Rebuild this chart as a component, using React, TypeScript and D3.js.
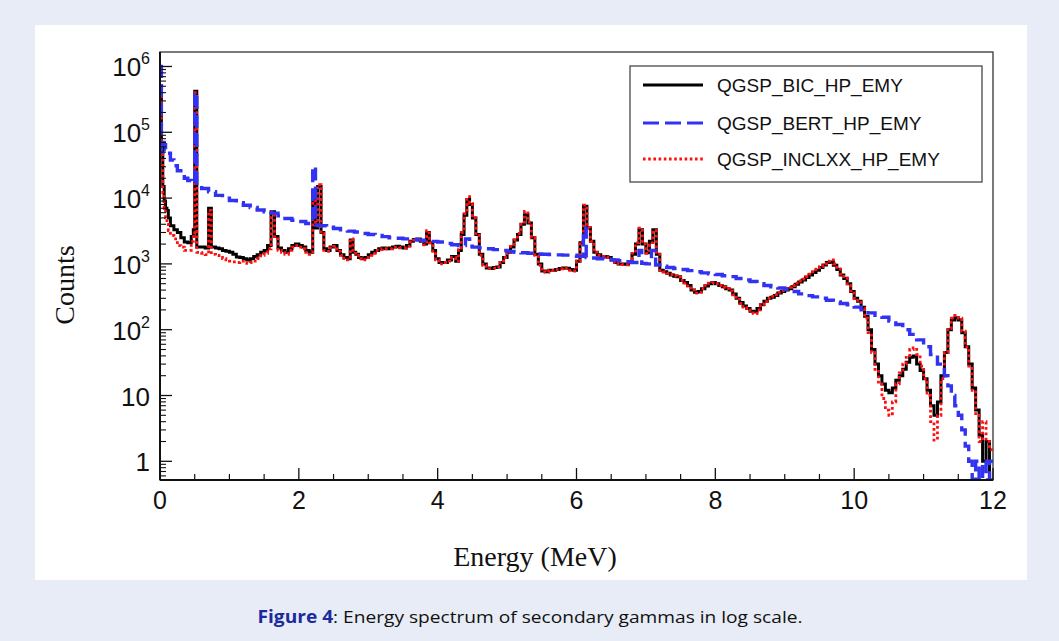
import React from "react";
import * as d3 from "d3";

// histogram bins: [bin lower edge (MeV), counts]
const bicSeries: [number, number][] = [
  [0, 400000], [0.02, 60000], [0.04, 15000], [0.06, 9000], [0.08, 7000], [0.1, 6500], [0.12, 5000], [0.15, 3800],
  [0.2, 3300], [0.25, 3000], [0.3, 2500], [0.35, 2150], [0.4, 2100], [0.45, 2600], [0.48, 3300], [0.5, 420000],
  [0.53, 1800], [0.6, 1800], [0.65, 1750], [0.7, 7000], [0.74, 1800], [0.8, 1750], [0.85, 1700], [0.9, 1600],
  [0.95, 1550], [1.0, 1500], [1.05, 1400], [1.1, 1270], [1.15, 1250], [1.2, 1200], [1.25, 1150], [1.3, 1200],
  [1.35, 1300], [1.4, 1380], [1.45, 1500], [1.5, 1600], [1.55, 1900], [1.6, 6200], [1.65, 2600], [1.7, 1750],
  [1.75, 1600], [1.8, 1500], [1.85, 1700], [1.9, 1900], [1.95, 2000], [2.0, 1900], [2.05, 1800], [2.1, 1600],
  [2.15, 1500], [2.2, 12000], [2.24, 3500], [2.27, 15000], [2.32, 3000], [2.36, 1700], [2.4, 1600], [2.45, 1800],
  [2.5, 1900], [2.55, 1600], [2.6, 1380], [2.65, 1250], [2.7, 1200], [2.74, 2300], [2.78, 1500], [2.82, 1400],
  [2.86, 1250], [2.9, 1200], [2.95, 1250], [3.0, 1380], [3.05, 1500], [3.1, 1600], [3.15, 1700], [3.2, 1750],
  [3.25, 1700], [3.3, 1750], [3.35, 1800], [3.4, 1850], [3.45, 1800], [3.5, 1750], [3.55, 1900], [3.6, 2200],
  [3.65, 2350], [3.7, 2400], [3.75, 2200], [3.8, 2000], [3.84, 3000], [3.88, 2100], [3.93, 1600], [3.97, 1200],
  [4.02, 1050], [4.08, 1050], [4.14, 1150], [4.2, 1290], [4.26, 1100], [4.3, 1600], [4.34, 2800], [4.38, 5500],
  [4.42, 9500], [4.46, 8000], [4.5, 5000], [4.55, 2800], [4.6, 1400], [4.65, 1000], [4.7, 870], [4.75, 850],
  [4.8, 880], [4.85, 900], [4.9, 1050], [4.95, 1250], [5.0, 1500], [5.05, 1800], [5.1, 2300], [5.15, 2800],
  [5.2, 4000], [5.25, 5600], [5.3, 4200], [5.35, 2500], [5.4, 1400], [5.45, 1000], [5.5, 780], [5.55, 760],
  [5.6, 800], [5.65, 800], [5.7, 820], [5.75, 850], [5.8, 870], [5.85, 860], [5.9, 820], [5.95, 800],
  [6.0, 1100], [6.05, 2100], [6.1, 7500], [6.15, 3500], [6.2, 2200], [6.25, 1500], [6.3, 1380], [6.35, 1300],
  [6.4, 1300], [6.45, 1250], [6.5, 1150], [6.55, 1050], [6.6, 1000], [6.65, 1000], [6.7, 990], [6.75, 1050],
  [6.8, 1400], [6.85, 2000], [6.9, 3300], [6.95, 2000], [7.0, 1480], [7.05, 2200], [7.1, 3300], [7.15, 1400],
  [7.2, 800], [7.25, 760], [7.3, 720], [7.35, 680], [7.4, 650], [7.45, 640], [7.5, 560], [7.55, 520],
  [7.6, 470], [7.65, 400], [7.7, 370], [7.75, 380], [7.8, 420], [7.85, 460], [7.9, 500], [7.95, 520],
  [8.0, 500], [8.05, 470], [8.1, 450], [8.15, 420], [8.2, 400], [8.25, 350], [8.3, 300], [8.35, 260],
  [8.4, 230], [8.45, 210], [8.5, 190], [8.55, 187], [8.6, 210], [8.65, 240], [8.7, 270], [8.75, 300],
  [8.8, 310], [8.85, 330], [8.9, 360], [8.95, 380], [9.0, 400], [9.05, 420], [9.1, 450], [9.15, 490],
  [9.2, 530], [9.25, 570], [9.3, 620], [9.35, 680], [9.4, 740], [9.45, 800], [9.5, 880], [9.55, 960],
  [9.6, 1050], [9.65, 1070], [9.7, 950], [9.75, 820], [9.8, 680], [9.85, 600], [9.9, 500], [9.95, 380],
  [10.0, 300], [10.05, 270], [10.1, 220], [10.15, 160], [10.2, 100], [10.25, 50], [10.3, 30], [10.35, 20],
  [10.4, 15], [10.45, 12], [10.5, 11], [10.55, 13], [10.6, 17], [10.65, 20], [10.7, 25], [10.75, 32],
  [10.8, 38], [10.85, 40], [10.9, 30], [10.95, 24], [11.0, 18], [11.05, 12], [11.1, 7], [11.15, 5],
  [11.2, 8], [11.25, 20], [11.3, 45], [11.35, 100], [11.4, 140], [11.45, 152], [11.5, 140], [11.55, 90],
  [11.6, 55], [11.65, 30], [11.7, 13], [11.75, 6], [11.8, 2.5], [11.85, 1], [11.9, 2], [11.95, 0], [12, 0],
];

const bertSeries: [number, number][] = [
  [0, 1000000], [0.02, 50000], [0.04, 70000], [0.06, 65000], [0.08, 55000], [0.1, 48000], [0.15, 38000],
  [0.2, 31000], [0.25, 26000], [0.3, 23000], [0.35, 20000], [0.4, 18500], [0.45, 17000], [0.5, 400000],
  [0.53, 15500], [0.6, 14000], [0.7, 12500], [0.8, 11000], [0.9, 10000], [1.0, 9200], [1.1, 8500],
  [1.2, 7800], [1.3, 7200], [1.4, 6600], [1.5, 6200], [1.6, 5900], [1.7, 5400], [1.8, 4900], [1.9, 4600],
  [2.0, 4400], [2.1, 4100], [2.2, 30000], [2.24, 3900], [2.3, 3800], [2.4, 3600], [2.5, 3450], [2.6, 3300],
  [2.7, 3150], [2.8, 3050], [2.9, 2900], [3.0, 2800], [3.1, 2700], [3.2, 2600], [3.3, 2500], [3.4, 2450],
  [3.5, 2400], [3.6, 2350], [3.7, 2300], [3.8, 2250], [3.9, 2200], [4.0, 2150], [4.1, 2050], [4.2, 1950],
  [4.3, 1900], [4.4, 2400], [4.46, 1850], [4.5, 1800], [4.6, 1750], [4.7, 1700], [4.8, 1650], [4.9, 1600],
  [5.0, 1550], [5.1, 1500], [5.2, 1480], [5.3, 1450], [5.4, 1420], [5.5, 1400], [5.6, 1390], [5.7, 1370],
  [5.8, 1360], [5.9, 1350], [6.0, 1300], [6.1, 3500], [6.14, 1250], [6.2, 1230], [6.3, 1200], [6.4, 1180],
  [6.5, 1150], [6.6, 1120], [6.7, 1080], [6.8, 1050], [6.9, 1600], [6.94, 1020], [7.0, 1000], [7.08, 1600],
  [7.14, 960], [7.2, 920], [7.3, 880], [7.4, 850], [7.5, 820], [7.6, 790], [7.7, 760], [7.8, 730],
  [7.9, 710], [8.0, 690], [8.1, 660], [8.2, 640], [8.3, 600], [8.4, 570], [8.5, 540], [8.6, 500],
  [8.7, 470], [8.8, 450], [8.9, 430], [9.0, 410], [9.1, 380], [9.2, 350], [9.3, 330], [9.4, 315],
  [9.5, 300], [9.6, 280], [9.7, 265], [9.8, 250], [9.9, 240], [10.0, 220], [10.1, 200], [10.2, 180],
  [10.3, 165], [10.4, 155], [10.5, 135], [10.6, 120], [10.7, 100], [10.8, 85], [10.9, 70], [11.0, 55],
  [11.1, 42], [11.2, 30], [11.3, 20], [11.35, 14], [11.4, 10], [11.45, 7], [11.5, 5], [11.55, 3],
  [11.6, 1.7], [11.65, 1], [11.7, 0], [11.75, 1], [11.8, 0], [11.85, 1], [11.9, 0], [11.95, 1], [12, 1],
];

const inclxxSeries: [number, number][] = [
  [0, 350000], [0.02, 50000], [0.04, 12000], [0.06, 7000], [0.08, 5000], [0.1, 4000], [0.12, 3200], [0.15, 2700],
  [0.2, 2400], [0.25, 1900], [0.3, 1800], [0.35, 1600], [0.4, 1600], [0.45, 2200], [0.48, 2600], [0.5, 400000],
  [0.53, 1500], [0.6, 1450], [0.65, 1380], [0.7, 6500], [0.74, 1400], [0.8, 1350], [0.85, 1250], [0.9, 1200],
  [0.95, 1150], [1.0, 1100], [1.05, 1070], [1.1, 1050], [1.15, 1100], [1.2, 1040], [1.25, 1020], [1.3, 1050],
  [1.35, 1100], [1.4, 1200], [1.45, 1350], [1.5, 1450], [1.55, 1700], [1.6, 6000], [1.65, 2400], [1.7, 1600],
  [1.75, 1500], [1.8, 1400], [1.85, 1600], [1.9, 1800], [1.95, 1900], [2.0, 1800], [2.05, 1700], [2.1, 1500],
  [2.15, 1400], [2.2, 11000], [2.24, 3800], [2.27, 16000], [2.32, 2900], [2.36, 1600], [2.4, 1550], [2.45, 1750],
  [2.5, 1850], [2.55, 1550], [2.6, 1350], [2.65, 1200], [2.7, 1150], [2.74, 2400], [2.78, 1450], [2.82, 1350],
  [2.86, 1200], [2.9, 1150], [2.95, 1250], [3.0, 1350], [3.05, 1450], [3.1, 1600], [3.15, 1650], [3.2, 1700],
  [3.25, 1700], [3.3, 1700], [3.35, 1800], [3.4, 1800], [3.45, 1750], [3.5, 1750], [3.55, 1850], [3.6, 2150],
  [3.65, 2300], [3.7, 2350], [3.75, 2200], [3.8, 1950], [3.84, 3200], [3.88, 2100], [3.93, 1550], [3.97, 1150],
  [4.02, 1000], [4.08, 1050], [4.14, 1100], [4.2, 1250], [4.26, 1100], [4.3, 1650], [4.34, 3000], [4.38, 5800],
  [4.42, 10500], [4.46, 8300], [4.5, 5000], [4.55, 2700], [4.6, 1350], [4.65, 950], [4.7, 850], [4.75, 850],
  [4.8, 860], [4.85, 900], [4.9, 1050], [4.95, 1250], [5.0, 1500], [5.05, 1850], [5.1, 2300], [5.15, 2900],
  [5.2, 4300], [5.25, 6300], [5.3, 4300], [5.35, 2500], [5.4, 1350], [5.45, 950], [5.5, 760], [5.55, 750],
  [5.6, 800], [5.65, 790], [5.7, 820], [5.75, 840], [5.8, 860], [5.85, 850], [5.9, 800], [5.95, 780],
  [6.0, 1100], [6.05, 2200], [6.1, 7800], [6.15, 3600], [6.2, 2200], [6.25, 1500], [6.3, 1350], [6.35, 1300],
  [6.4, 1280], [6.45, 1250], [6.5, 1150], [6.55, 1050], [6.6, 1000], [6.65, 980], [6.7, 970], [6.75, 1050],
  [6.8, 1450], [6.85, 2100], [6.9, 3500], [6.95, 2000], [7.0, 1450], [7.05, 2100], [7.1, 3200], [7.15, 1400],
  [7.2, 800], [7.25, 760], [7.3, 720], [7.35, 690], [7.4, 660], [7.45, 630], [7.5, 560], [7.55, 510],
  [7.6, 460], [7.65, 400], [7.7, 360], [7.75, 370], [7.8, 420], [7.85, 470], [7.9, 510], [7.95, 520],
  [8.0, 500], [8.05, 470], [8.1, 440], [8.15, 420], [8.2, 390], [8.25, 340], [8.3, 290], [8.35, 250],
  [8.4, 220], [8.45, 200], [8.5, 180], [8.55, 175], [8.6, 200], [8.65, 240], [8.7, 270], [8.75, 300],
  [8.8, 320], [8.85, 340], [8.9, 370], [8.95, 390], [9.0, 420], [9.05, 440], [9.1, 470], [9.15, 510],
  [9.2, 550], [9.25, 590], [9.3, 640], [9.35, 700], [9.4, 760], [9.45, 830], [9.5, 910], [9.55, 1000],
  [9.6, 1100], [9.65, 1150], [9.7, 1000], [9.75, 840], [9.8, 700], [9.85, 610], [9.9, 500], [9.95, 390],
  [10.0, 300], [10.05, 260], [10.1, 210], [10.15, 150], [10.2, 90], [10.25, 45], [10.3, 25], [10.35, 15],
  [10.4, 9], [10.45, 6], [10.5, 5], [10.55, 8], [10.6, 15], [10.65, 22], [10.7, 30], [10.75, 40],
  [10.8, 50], [10.85, 53], [10.9, 42], [10.95, 28], [11.0, 18], [11.05, 10], [11.1, 4], [11.15, 2.1],
  [11.2, 5], [11.25, 18], [11.3, 45], [11.35, 105], [11.4, 150], [11.45, 165], [11.5, 150], [11.55, 95],
  [11.6, 55], [11.65, 28], [11.7, 12], [11.75, 5], [11.8, 2], [11.85, 4], [11.9, 2], [11.95, 1.5], [12, 1.5],
];

const legendNames = ["QGSP_BIC_HP_EMY", "QGSP_BERT_HP_EMY", "QGSP_INCLXX_HP_EMY"];
const xTickValues = [0, 2, 4, 6, 8, 10, 12];
const yDecades = [0, 1, 2, 3, 4, 5, 6];

const W = 1059;
const H = 641;
const plot = { left: 160, right: 993, top: 52, bottom: 480 };
const Y_MIN = 0.52;
const Y_MAX = 1.66e6;

const BLUE = "#3232f2";
const RED = "#ff1010";

export default function App() {
  const x = d3.scaleLinear().domain([0, 12]).range([plot.left, plot.right]);
  const y = d3.scaleLog().domain([Y_MIN, Y_MAX]).range([plot.bottom, plot.top]);

  const line = d3
    .line<[number, number]>()
    .x((d) => x(d[0]))
    .y((d) => y(Math.max(d[1], Y_MIN)))
    .curve(d3.curveStepAfter);

  const series = [
    { data: bicSeries, color: "#000", dash: undefined as string | undefined, width: 3 },
    { data: inclxxSeries, color: RED, dash: "2.8,2.6", width: 2.8 },
    { data: bertSeries, color: BLUE, dash: "13,6", width: 3.4 },
  ];

  // minor ticks
  const xMinor = d3.range(0, 12.01, 0.5).filter((v) => v % 2 !== 0);
  const yMinor: number[] = [];
  for (let d = -1; d <= 6; d++) {
    for (let k = 2; k <= 9; k++) {
      const v = k * Math.pow(10, d);
      if (v >= Y_MIN && v <= Y_MAX) yMinor.push(v);
    }
  }

  const legendX = 630;
  const legendY = 66;
  const legendRows = [88, 126, 162];
  const legendStyles = [
    { color: "#000", dash: undefined as string | undefined },
    { color: BLUE, dash: "16,6" },
    { color: RED, dash: "2.6,2.6" },
  ];

  return (
    <svg
      width={W}
      height={H}
      style={{ position: "absolute", left: 0, top: 0, display: "block" }}
    >
      <rect x={0} y={0} width={W} height={H} fill="#e7ecf6" />
      <rect x={35} y={25} width={992} height={555} fill="#fff" />

      <defs>
        <clipPath id="plotClip">
          <rect
            x={plot.left}
            y={plot.top}
            width={plot.right - plot.left}
            height={plot.bottom - plot.top}
          />
        </clipPath>
      </defs>

      {/* frame */}
      <rect
        x={plot.left}
        y={plot.top}
        width={plot.right - plot.left}
        height={plot.bottom - plot.top}
        fill="none"
        stroke="#444"
        strokeWidth={1.4}
      />

      <g clipPath="url(#plotClip)">
        {series.map((s, i) => (
          <path
            key={i}
            d={line(s.data) || ""}
            fill="none"
            stroke={s.color}
            strokeWidth={s.width}
            strokeDasharray={s.dash}
          />
        ))}
      </g>

      {/* axes */}
      <line x1={plot.left} x2={plot.right} y1={plot.bottom} y2={plot.bottom} stroke="#111" strokeWidth={2} />
      <line x1={plot.left} x2={plot.left} y1={plot.top} y2={plot.bottom} stroke="#111" strokeWidth={2} />

      {xTickValues.map((v) => (
        <g key={"xt" + v}>
          <line x1={x(v)} x2={x(v)} y1={plot.bottom} y2={plot.bottom - 12} stroke="#111" strokeWidth={1.3} />
          <text
            x={x(v)}
            y={509}
            textAnchor="middle"
            fontFamily="Liberation Sans, Arial, sans-serif"
            fontSize={25}
            fill="#111"
          >
            {v}
          </text>
        </g>
      ))}
      {xMinor.map((v) => (
        <line key={"xm" + v} x1={x(v)} x2={x(v)} y1={plot.bottom} y2={plot.bottom - 6} stroke="#111" strokeWidth={1.2} />
      ))}

      {yDecades.map((d) => {
        const v = Math.pow(10, d);
        const yy = y(v);
        return (
          <g key={"yt" + d}>
            <line x1={plot.left} x2={plot.left + 12} y1={yy} y2={yy} stroke="#111" strokeWidth={1.3} />
            <text
              x={150}
              y={yy + 10}
              textAnchor="end"
              fontFamily="Liberation Sans, Arial, sans-serif"
              fontSize={26}
              fill="#111"
            >
              {d === 0 ? "1" : d === 1 ? "10" : (
                <>
                  10
                  <tspan fontSize={16} dy={-12}>
                    {d}
                  </tspan>
                </>
              )}
            </text>
          </g>
        );
      })}
      {yMinor.map((v) => (
        <line key={"ym" + v} x1={plot.left} x2={plot.left + 6} y1={y(v)} y2={y(v)} stroke="#111" strokeWidth={1.1} />
      ))}

      {/* axis titles */}
      <text
        transform={`translate(74,285) rotate(-90)`}
        textAnchor="middle"
        fontFamily="Liberation Serif, Times New Roman, serif"
        fontSize={28}
        fill="#111"
      >
        Counts
      </text>
      <text
        x={535}
        y={566}
        textAnchor="middle"
        fontFamily="Liberation Serif, Times New Roman, serif"
        fontSize={28}
        fill="#111"
      >
        Energy (MeV)
      </text>

      {/* legend */}
      <rect
        x={legendX}
        y={legendY}
        width={352}
        height={116}
        fill="#fff"
        stroke="#555"
        strokeWidth={1.4}
      />
      {legendNames.map((name, i) => (
        <g key={name}>
          <line
            x1={643}
            x2={703}
            y1={legendRows[i] - 3}
            y2={legendRows[i] - 3}
            stroke={legendStyles[i].color}
            strokeWidth={3}
            strokeDasharray={legendStyles[i].dash}
          />
          <text
            x={717}
            y={legendRows[i] + 4}
            fontFamily="Liberation Sans, Arial, sans-serif"
            fontSize={19}
            fill="#111"
          >
            {name}
          </text>
        </g>
      ))}

      {/* caption */}
      <text
        x={530}
        y={623}
        textAnchor="middle"
        fontFamily="Open Sans, Noto Sans, sans-serif"
        fontSize={17}
        fill="#111"
        textLength={545}
        lengthAdjust="spacingAndGlyphs"
      >
        <tspan fontWeight="bold" fill="#1c2a9c">
          Figure 4
        </tspan>
        : Energy spectrum of secondary gammas in log scale.
      </text>
    </svg>
  );
}
